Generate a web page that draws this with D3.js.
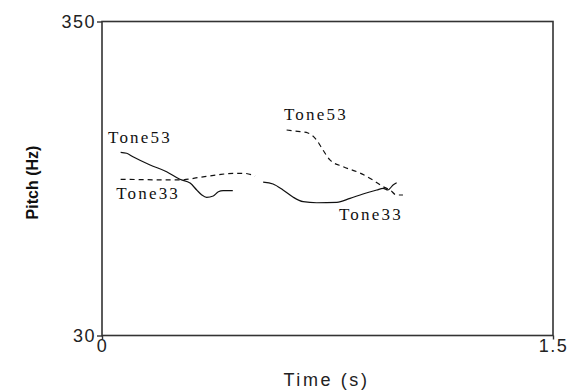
<!DOCTYPE html>
<html>
<head>
<meta charset="utf-8">
<script src="https://cdn.jsdelivr.net/npm/d3@7"></script>
<style>
  html, body { margin: 0; padding: 0; background: #fff; }
  svg { display: block; }
</style>
</head>
<body>
<svg id="chart" width="569" height="391"></svg>
<script>
// Pitch tracks (time in s, pitch in Hz)
const tone53aTime  = [0.062, 0.082, 0.103, 0.160, 0.215, 0.259, 0.293, 0.315, 0.332, 0.348, 0.370, 0.387, 0.403, 0.435];
const tone53aPitch = [216.7, 215.7, 212.2, 203.8, 196.9, 189.2, 185.4, 178.3, 173.2, 170.8, 172.2, 176.5, 177.6, 177.6];

const tone33aTime  = [0.062, 0.259, 0.326, 0.382, 0.437, 0.470, 0.509];
const tone33aPitch = [189.2, 188.5, 191.2, 193.6, 195.3, 195.3, 192.5];

const tone33bTime  = [0.536, 0.569, 0.602, 0.635, 0.669, 0.714, 0.781, 0.825, 0.868, 0.914, 0.935, 0.951, 0.968, 0.980];
const tone33bPitch = [186.4, 184.4, 178.3, 171.1, 166.4, 165.3, 165.7, 169.8, 174.2, 178.3, 180.0, 178.3, 183.4, 185.7];

const tone53bTime  = [0.614, 0.659, 0.685, 0.714, 0.735, 0.758, 0.802, 0.858, 0.901, 0.935, 0.958, 0.980, 1.001];
const tone53bPitch = [239.4, 237.7, 236.4, 229.2, 219.0, 208.9, 202.0, 195.6, 188.5, 181.6, 178.3, 173.2, 173.2];

// Labels: text, time, pitch at baseline start
const labelText  = ["Tone53", "Tone33", "Tone53", "Tone33"];
const labelTime  = [0.020, 0.047, 0.605, 0.788];
const labelPitch = [226.2, 169.1, 249.6, 147.7];

const xDomain = [0, 1.5];
const yDomain = [30, 350];
const xTickLabels = ["0", "1.5"];
const yTickLabels = ["30", "350"];

const svg = d3.select("#chart");
const plotLeft = 102, plotRight = 553, plotTop = 21.5, plotBottom = 335.5;

const x = d3.scaleLinear().domain(xDomain).range([plotLeft, plotRight]);
const y = d3.scaleLinear().domain(yDomain).range([plotBottom, plotTop]);

// Frame
svg.append("rect")
  .attr("x", plotLeft).attr("y", plotTop)
  .attr("width", plotRight - plotLeft).attr("height", plotBottom - plotTop)
  .attr("fill", "none").attr("stroke", "#333").attr("stroke-width", 1.6);

// Y axis ticks
const yAxis = d3.axisLeft(y)
  .tickValues(yDomain)
  .tickFormat((d, i) => yTickLabels[i])
  .tickSize(5).tickSizeOuter(0).tickPadding(1);
const gy = svg.append("g").attr("transform", `translate(${plotLeft},0)`).call(yAxis);
gy.select(".domain").remove();
gy.selectAll("line").attr("stroke", "#333").attr("stroke-width", 1.4);
gy.selectAll("text")
  .attr("font-family", "Liberation Sans, Arial, sans-serif")
  .attr("font-size", 18).attr("fill", "#222")
  .attr("letter-spacing", 1.5);

// X axis ticks
const xAxis = d3.axisBottom(x)
  .tickValues(xDomain)
  .tickFormat((d, i) => xTickLabels[i])
  .tickSize(4).tickSizeOuter(0).tickPadding(0);
const gx = svg.append("g").attr("transform", `translate(0,${plotBottom})`).call(xAxis);
gx.select(".domain").remove();
gx.selectAll("line").attr("stroke", "#333").attr("stroke-width", 1.4);
gx.selectAll("text")
  .attr("font-family", "Liberation Sans, Arial, sans-serif")
  .attr("font-size", 18).attr("fill", "#222")
  .attr("letter-spacing", 1.5);

// Axis titles
svg.append("text")
  .attr("x", (plotLeft + plotRight) / 2 - 1).attr("y", 386)
  .attr("text-anchor", "middle")
  .attr("font-family", "Liberation Sans, Arial, sans-serif")
  .attr("font-size", 18).attr("fill", "#222")
  .attr("letter-spacing", 2.6)
  .text("Time (s)");

svg.append("text")
  .attr("transform", `translate(38,${(plotTop + plotBottom) / 2 + 4}) rotate(-90)`)
  .attr("text-anchor", "middle")
  .attr("font-family", "Liberation Sans, Arial, sans-serif")
  .attr("font-weight", "bold")
  .attr("font-size", 16).attr("fill", "#111")
  .text("Pitch (Hz)");

// Pitch contours
const line = d3.line().x(d => x(d[0])).y(d => y(d[1])).curve(d3.curveMonotoneX);
const zip = (a, b) => a.map((v, i) => [v, b[i]]);

const tracks = [
  { t: tone53aTime, p: tone53aPitch, dash: null },
  { t: tone33aTime, p: tone33aPitch, dash: "5,4" },
  { t: tone33bTime, p: tone33bPitch, dash: null },
  { t: tone53bTime, p: tone53bPitch, dash: "5,4" }
];

svg.append("g").selectAll("path")
  .data(tracks)
  .join("path")
  .attr("d", d => line(zip(d.t, d.p)))
  .attr("fill", "none")
  .attr("stroke", "#111")
  .attr("stroke-width", 1.2)
  .attr("stroke-dasharray", d => d.dash);

// Tone labels
svg.append("g").selectAll("text")
  .data(labelText)
  .join("text")
  .attr("x", (d, i) => x(labelTime[i]))
  .attr("y", (d, i) => y(labelPitch[i]))
  .attr("font-family", "Liberation Serif, Times New Roman, serif")
  .attr("font-size", 17).attr("fill", "#111")
  .attr("letter-spacing", 2.2)
  .text(d => d);
</script>
</body>
</html>
